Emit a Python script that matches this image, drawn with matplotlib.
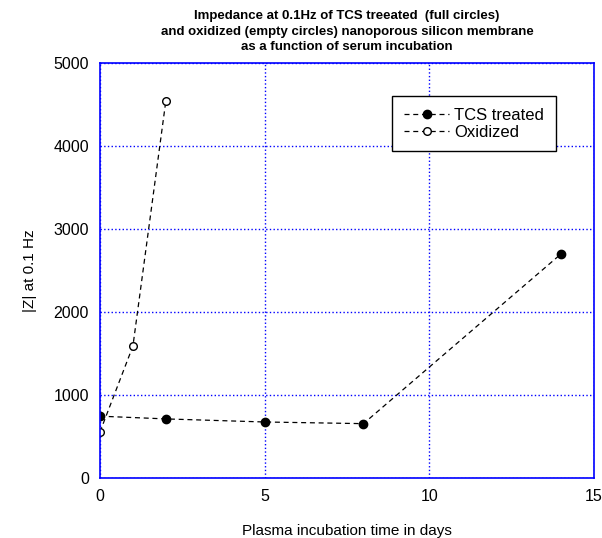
import matplotlib
matplotlib.use("Agg")
import matplotlib.pyplot as plt

plt.rcParams["font.family"] = ["Liberation Sans", "DejaVu Sans"]

tcs_days = [0, 2, 5, 8, 14]
tcs_z = [745, 712, 675, 655, 2700]

ox_days = [0, 1, 2]
ox_z = [555, 1590, 4545]

fig = plt.figure(figsize=(6.02, 5.38), dpi=100)
# axes frame: x 100..594 px, y 63..478 px
ax = fig.add_axes([0.1661, 0.1115, 0.8206, 0.7714])

ax.plot(tcs_days, tcs_z, "--o", color="black", linewidth=0.9,
        markersize=6, dashes=(4, 3), label="TCS treated")
ax.plot(ox_days, ox_z, "--o", color="black", linewidth=0.9,
        markersize=5.5, markerfacecolor="white", dashes=(4, 3),
        label="Oxidized")

ax.set_xlim(0, 15)
ax.set_ylim(0, 5000)
ax.set_xticks([0, 5, 10, 15])
ax.set_yticks(range(0, 5001, 1000))
ax.grid(True, color="blue", linestyle=":", linewidth=1)

for s in ax.spines.values():
    s.set_color("blue")
    s.set_linewidth(1.2)
ax.tick_params(colors="black", labelsize=11.5, length=0, pad=8)

ax.set_xlabel("Plasma incubation time in days", fontsize=11, labelpad=14)
ax.set_ylabel("|Z| at 0.1 Hz", fontsize=11, labelpad=12)
ax.set_title("Impedance at 0.1Hz of TCS treeated  (full circles)\n"
             "and oxidized (empty circles) nanoporous silicon membrane\n"
             "as a function of serum incubation",
             fontsize=9.5, fontweight="bold", pad=9, linespacing=1.4)

leg = ax.legend(loc="upper left", bbox_to_anchor=(0.575, 0.94),
                fontsize=12, fancybox=False, framealpha=1,
                edgecolor="black", handlelength=2.7, borderpad=0.7,
                labelspacing=0.1, handletextpad=0.3)
leg.get_frame().set_linewidth(1)

fig.savefig("out.png", dpi=100)
